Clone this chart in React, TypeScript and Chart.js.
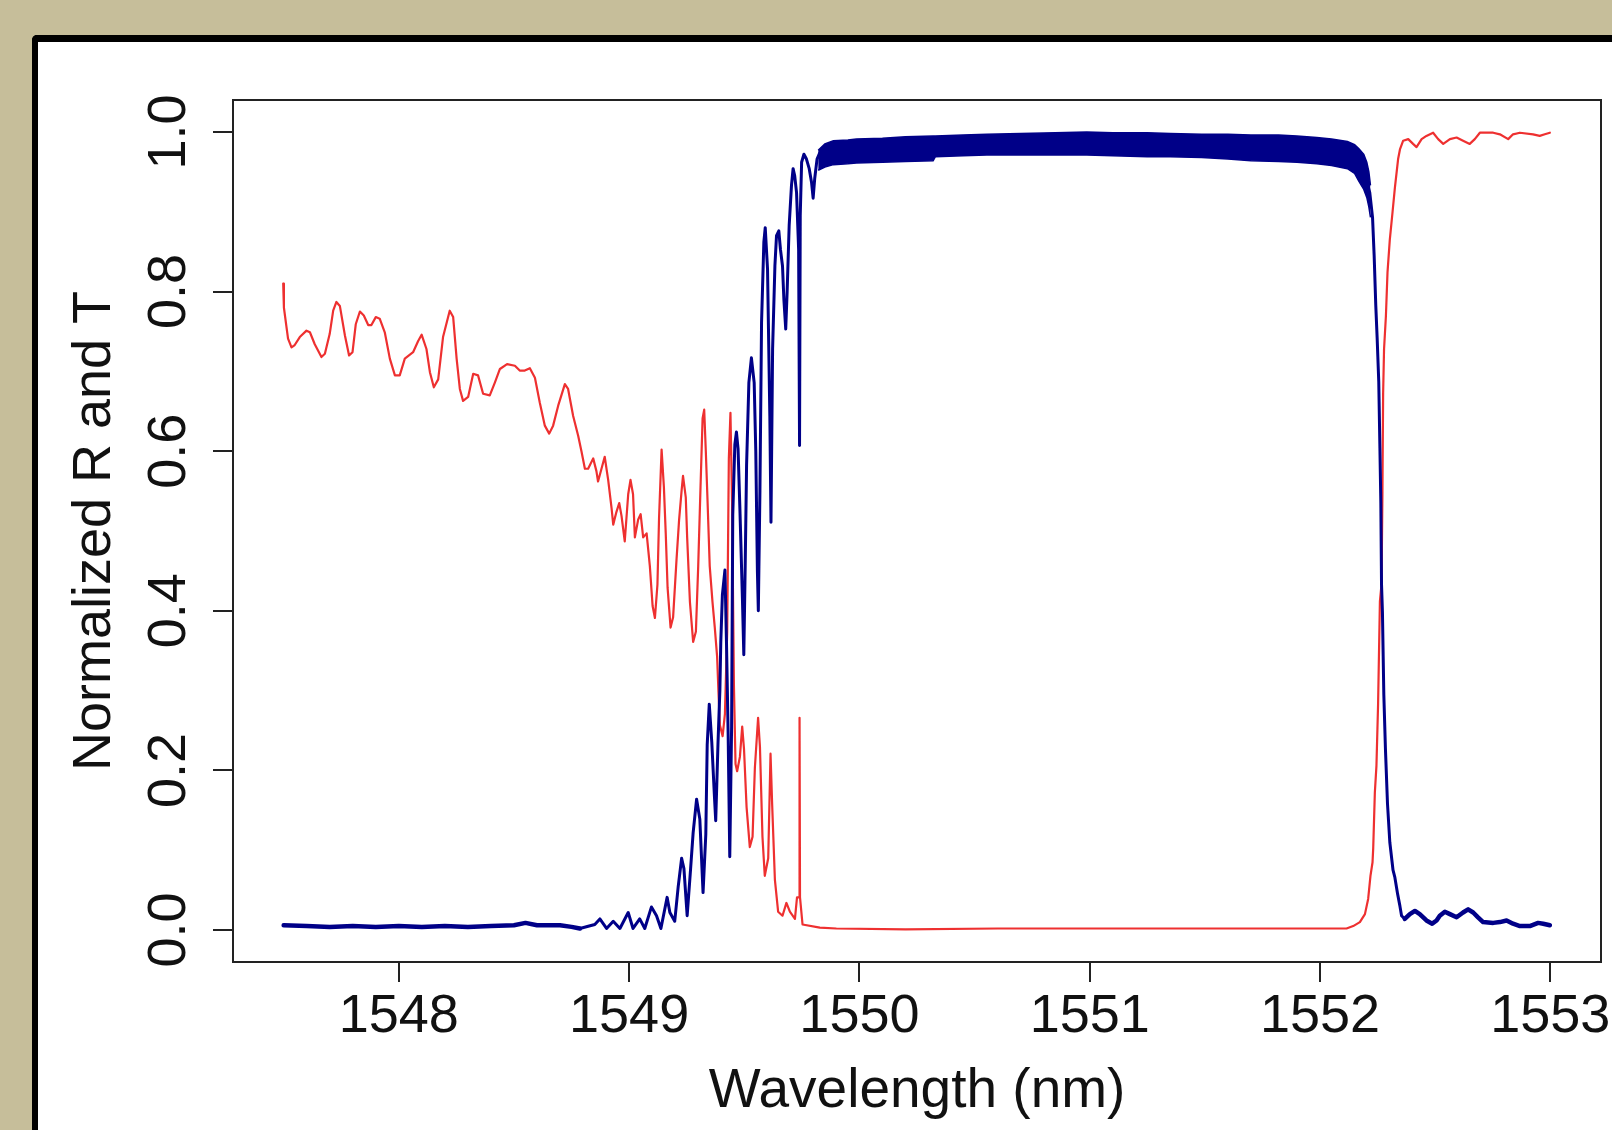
import React, { useEffect, useRef } from "react";
import { Chart, registerables } from "chart.js";

Chart.register(...registerables);

// ---- axis ticks / titles ----
const xTickValues = [1548, 1549, 1550, 1551, 1552, 1553];
const xTickLabels = ["1548", "1549", "1550", "1551", "1552", "1553"];
const yTickValues = [0, 0.2, 0.4, 0.6, 0.8, 1.0];
const yTickLabels = ["0.0", "0.2", "0.4", "0.6", "0.8", "1.0"];
const xTitle = "Wavelength (nm)";
const yTitle = "Normalized R and T";

// ---- R (reflection, red) ----
const rWavelength = [
  1547.498, 1547.501, 1547.512, 1547.519, 1547.534, 1547.548, 1547.570, 1547.599, 1547.614, 1547.635,
  1547.664, 1547.679, 1547.700, 1547.715, 1547.729, 1547.744, 1547.766, 1547.784, 1547.799, 1547.813,
  1547.831, 1547.848, 1547.867, 1547.881, 1547.900, 1547.917, 1547.939, 1547.961, 1547.983, 1548.004,
  1548.026, 1548.062, 1548.084, 1548.099, 1548.120, 1548.135, 1548.152, 1548.171, 1548.192, 1548.221,
  1548.236, 1548.251, 1548.265, 1548.279, 1548.301, 1548.323, 1548.344, 1548.366, 1548.395, 1548.417,
  1548.439, 1548.470, 1548.504, 1548.525, 1548.547, 1548.569, 1548.591, 1548.612, 1548.634, 1548.653,
  1548.670, 1548.692, 1548.721, 1548.735, 1548.757, 1548.779,
  1548.793, 1548.808, 1548.822, 1548.844, 1548.858, 1548.865, 1548.880, 1548.894, 1548.909, 1548.924,
  1548.931, 1548.945, 1548.957, 1548.967, 1548.981, 1548.996, 1549.006, 1549.017, 1549.025, 1549.039,
  1549.050, 1549.061, 1549.076, 1549.090, 1549.102, 1549.112, 1549.123, 1549.130, 1549.141, 1549.151,
  1549.159, 1549.167, 1549.180, 1549.191, 1549.206, 1549.217, 1549.228, 1549.234, 1549.246, 1549.252,
  1549.264, 1549.278, 1549.290, 1549.300, 1549.310, 1549.319, 1549.326, 1549.333, 1549.340, 1549.350,
  1549.362, 1549.372, 1549.382, 1549.388, 1549.394, 1549.406, 1549.416, 1549.426, 1549.433, 1549.440,
  1549.447, 1549.455, 1549.462, 1549.469, 1549.481, 1549.491, 1549.499, 1549.510, 1549.524, 1549.536,
  1549.546, 1549.560, 1549.568, 1549.579, 1549.589, 1549.604, 1549.614, 1549.621, 1549.633, 1549.647,
  1549.666, 1549.683, 1549.698, 1549.720, 1549.729, 1549.738, 1549.740, 1549.742, 1549.753, 1549.828,
  1549.900, 1550.200, 1550.600, 1551.000, 1551.500, 1551.900, 1552.115, 1552.144, 1552.173, 1552.195,
  1552.209, 1552.219, 1552.228, 1552.231, 1552.238, 1552.245, 1552.252, 1552.260, 1552.267, 1552.271,
  1552.274, 1552.278, 1552.286, 1552.293, 1552.303, 1552.315, 1552.325, 1552.339, 1552.347, 1552.361,
  1552.383, 1552.404, 1552.419, 1552.441, 1552.462, 1552.491, 1552.513, 1552.535, 1552.564, 1552.593,
  1552.621, 1552.650, 1552.672, 1552.694, 1552.752, 1552.781, 1552.817, 1552.838, 1552.868, 1552.925,
  1552.954, 1552.976, 1552.998,
];
const rValue = [
  0.810, 0.780, 0.756, 0.741, 0.730, 0.733, 0.743, 0.751, 0.749, 0.734,
  0.718, 0.722, 0.747, 0.776, 0.787, 0.782, 0.745, 0.720, 0.724, 0.759,
  0.775, 0.770, 0.758, 0.758, 0.768, 0.766, 0.749, 0.716, 0.695, 0.695,
  0.716, 0.724, 0.738, 0.746, 0.728, 0.699, 0.680, 0.690, 0.743, 0.776,
  0.768, 0.716, 0.678, 0.663, 0.668, 0.697, 0.695, 0.672, 0.670, 0.686,
  0.703, 0.709, 0.707, 0.701, 0.701, 0.704, 0.692, 0.661, 0.632, 0.622,
  0.632, 0.657, 0.684, 0.678, 0.644, 0.619,
  0.600, 0.578, 0.578, 0.591, 0.575, 0.562, 0.578, 0.593, 0.564, 0.528,
  0.508, 0.524, 0.535, 0.519, 0.487, 0.546, 0.564, 0.546, 0.492, 0.514,
  0.521, 0.492, 0.497, 0.456, 0.406, 0.391, 0.433, 0.517, 0.602, 0.555,
  0.497, 0.429, 0.379, 0.392, 0.465, 0.514, 0.551, 0.569, 0.542, 0.492,
  0.411, 0.361, 0.374, 0.456, 0.555, 0.641, 0.652, 0.600, 0.542, 0.456,
  0.411, 0.379, 0.343, 0.298, 0.257, 0.243, 0.271, 0.375, 0.591, 0.648,
  0.537, 0.307, 0.208, 0.199, 0.217, 0.255, 0.226, 0.154, 0.104, 0.117,
  0.203, 0.266, 0.230, 0.117, 0.068, 0.090, 0.221, 0.158, 0.063, 0.023,
  0.018, 0.034, 0.023, 0.014, 0.041, 0.041, 0.266, 0.041, 0.007, 0.003,
  0.002, 0.001, 0.002, 0.002, 0.002, 0.002, 0.002, 0.005, 0.010, 0.020,
  0.039, 0.068, 0.085, 0.103, 0.172, 0.206, 0.282, 0.412, 0.433, 0.549,
  0.673, 0.728, 0.769, 0.824, 0.865, 0.900, 0.930, 0.966, 0.978, 0.989,
  0.991, 0.985, 0.981, 0.991, 0.995, 0.999, 0.991, 0.985, 0.991, 0.993,
  0.989, 0.985, 0.991, 0.999, 0.999, 0.997, 0.991, 0.997, 0.999, 0.997,
  0.995, 0.997, 0.999,
];

// ---- T (transmission, dark blue) ----
const tWavelength = [
  1547.500, 1547.600, 1547.700, 1547.800, 1547.900, 1548.000, 1548.100, 1548.200, 1548.300, 1548.400,
  1548.500, 1548.550, 1548.600, 1548.700, 1548.750, 1548.786, 1548.851, 1548.873, 1548.902, 1548.931,
  1548.960, 1548.996, 1549.017, 1549.046, 1549.068, 1549.097, 1549.119, 1549.138, 1549.165, 1549.177,
  1549.198, 1549.213, 1549.228, 1549.238, 1549.252, 1549.267, 1549.278, 1549.293, 1549.307, 1549.321,
  1549.333, 1549.339, 1549.348, 1549.359, 1549.370, 1549.376, 1549.386, 1549.394, 1549.398, 1549.405,
  1549.416, 1549.423, 1549.430, 1549.437, 1549.445, 1549.450, 1549.459, 1549.466, 1549.473, 1549.481,
  1549.492, 1549.498, 1549.504, 1549.510, 1549.520, 1549.531, 1549.543, 1549.550, 1549.557, 1549.561,
  1549.568, 1549.575, 1549.585, 1549.591, 1549.601, 1549.611, 1549.616, 1549.623, 1549.633, 1549.640,
  1549.650, 1549.657, 1549.666, 1549.672, 1549.680, 1549.686, 1549.695, 1549.705, 1549.712, 1549.719,
  1549.727, 1549.736, 1549.740, 1549.743, 1549.749, 1549.759, 1549.770, 1549.782, 1549.792, 1549.799,
  1549.806, 1549.816, 1549.828, 1550.000, 1550.500, 1551.000, 1551.500, 1552.000, 1552.120, 1552.170,
  1552.200, 1552.216, 1552.228, 1552.235, 1552.242, 1552.248, 1552.255, 1552.260, 1552.264, 1552.267,
  1552.271, 1552.277, 1552.284, 1552.293, 1552.303, 1552.317, 1552.325, 1552.337, 1552.347, 1552.354,
  1552.368, 1552.390, 1552.412, 1552.433, 1552.462, 1552.487, 1552.506, 1552.520, 1552.542, 1552.564,
  1552.593, 1552.621, 1552.643, 1552.665, 1552.686, 1552.708, 1552.752, 1552.781, 1552.810, 1552.838,
  1552.868, 1552.911, 1552.947, 1552.969, 1552.998,
];
const tValue = [
  0.006, 0.005, 0.004, 0.005, 0.004, 0.005, 0.004, 0.005, 0.004, 0.005,
  0.006, 0.009, 0.006, 0.006, 0.004, 0.002, 0.007, 0.014, 0.002, 0.011,
  0.002, 0.022, 0.002, 0.014, 0.002, 0.029, 0.018, 0.002, 0.041, 0.022,
  0.011, 0.054, 0.090, 0.077, 0.018, 0.077, 0.122, 0.164, 0.139, 0.047,
  0.120, 0.232, 0.283, 0.235, 0.170, 0.137, 0.235, 0.300, 0.361, 0.420,
  0.451, 0.357, 0.245, 0.092, 0.255, 0.520, 0.608, 0.624, 0.603, 0.528,
  0.415, 0.345, 0.456, 0.582, 0.686, 0.717, 0.686, 0.600, 0.450, 0.400,
  0.550, 0.761, 0.862, 0.880, 0.828, 0.644, 0.511, 0.728, 0.832, 0.870,
  0.876, 0.853, 0.832, 0.790, 0.753, 0.799, 0.883, 0.933, 0.954, 0.945,
  0.924, 0.853, 0.607, 0.895, 0.962, 0.972, 0.966, 0.954, 0.937, 0.917,
  0.942, 0.966, 0.974, 0.978, 0.985, 0.988, 0.985, 0.979, 0.973, 0.960,
  0.941, 0.924, 0.893, 0.845, 0.783, 0.742, 0.687, 0.604, 0.535, 0.433,
  0.398, 0.295, 0.227, 0.158, 0.110, 0.075, 0.066, 0.045, 0.030, 0.018,
  0.014, 0.020, 0.024, 0.020, 0.012, 0.008, 0.012, 0.018, 0.023, 0.020,
  0.016, 0.022, 0.026, 0.022, 0.016, 0.010, 0.009, 0.010, 0.012, 0.008,
  0.005, 0.005, 0.009, 0.008, 0.006,
];

// ---- T noise band on the stop-band plateau (upper / lower envelope) ----
const bandWavelength = [
  1549.821, 1549.850, 1549.887, 1549.950, 1549.987, 1550.100, 1550.200, 1550.320, 1550.330, 1550.450,
  1550.553, 1550.700, 1550.850, 1550.987, 1551.100, 1551.250, 1551.350, 1551.486, 1551.600, 1551.700,
  1551.820, 1551.900, 1551.986, 1552.050, 1552.119, 1552.150, 1552.169, 1552.190, 1552.203, 1552.212,
  1552.219,
];
const bandUpper = [
  0.977, 0.985, 0.989, 0.990, 0.991, 0.992, 0.994, 0.995, 0.995, 0.996,
  0.997, 0.998, 0.999, 1.000, 0.999, 0.999, 0.998, 0.997, 0.997, 0.996,
  0.996, 0.995, 0.993, 0.991, 0.988, 0.984, 0.979, 0.972, 0.962, 0.950,
  0.933,
];
const bandLower = [
  0.952, 0.956, 0.959, 0.960, 0.961, 0.962, 0.963, 0.964, 0.969, 0.970,
  0.971, 0.971, 0.971, 0.971, 0.970, 0.969, 0.969, 0.968, 0.966, 0.964,
  0.963, 0.962, 0.960, 0.958, 0.954, 0.948, 0.938, 0.928, 0.918, 0.906,
  0.893,
];

const RED = "#EE3030";
const BLUE = "#000088";
const INK = "#111111";
const FONT = "'Liberation Sans', Arial, Helvetica, sans-serif";

const toPoints = (xs: number[], ys: number[]) => xs.map((x, i) => ({ x, y: ys[i] }));

const decorPlugin = {
  id: "decor",
  afterDraw(chart: any) {
    const { ctx, chartArea: a, scales } = chart;
    ctx.save();
    // full box
    ctx.strokeStyle = "#222";
    ctx.lineWidth = 2;
    ctx.strokeRect(a.left, a.top, a.right - a.left, a.bottom - a.top);
    ctx.fillStyle = INK;
    ctx.textAlign = "center";
    ctx.textBaseline = "alphabetic";
    // x tick labels
    ctx.font = `54px ${FONT}`;
    xTickValues.forEach((v, i) => {
      ctx.fillText(xTickLabels[i], scales.x.getPixelForValue(v), a.bottom + 70);
    });
    // y tick labels (rotated, R style)
    yTickValues.forEach((v, i) => {
      ctx.save();
      ctx.translate(a.left - 48, scales.y.getPixelForValue(v));
      ctx.rotate(-Math.PI / 2);
      ctx.fillText(yTickLabels[i], 0, 0);
      ctx.restore();
    });
    // titles
    ctx.font = `55px ${FONT}`;
    ctx.fillText(xTitle, (a.left + a.right) / 2, a.bottom + 145);
    ctx.font = `54px ${FONT}`;
    ctx.save();
    ctx.translate(a.left - 123, (a.top + a.bottom) / 2);
    ctx.rotate(-Math.PI / 2);
    ctx.fillText(yTitle, 0, 0);
    ctx.restore();
    ctx.restore();
  },
};

export default function App() {
  const canvasRef = useRef<HTMLCanvasElement | null>(null);

  useEffect(() => {
    const canvas = canvasRef.current;
    if (!canvas) return;
    const chart = new Chart(canvas, {
      type: "line",
      data: {
        datasets: [
          {
            label: "T band upper",
            data: toPoints(bandWavelength, bandUpper),
            borderColor: BLUE,
            borderWidth: 1.5,
            pointRadius: 0,
            fill: false,
            tension: 0,
          },
          {
            label: "T band lower",
            data: toPoints(bandWavelength, bandLower),
            borderColor: BLUE,
            backgroundColor: BLUE,
            borderWidth: 1.5,
            pointRadius: 0,
            fill: "-1",
            tension: 0,
          },
          {
            label: "T",
            data: toPoints(tWavelength, tValue),
            borderColor: BLUE,
            borderWidth: 3,
            pointRadius: 0,
            fill: false,
            tension: 0,
            borderJoinStyle: "round",
            borderCapStyle: "round",
            segment: {
              borderWidth: (c: any) =>
                c.p0.parsed.x < 1548.78 || c.p0.parsed.x > 1552.36 ? 4.5 : 3,
            },
          },
          {
            label: "R",
            data: toPoints(rWavelength, rValue),
            borderColor: RED,
            borderWidth: 2.2,
            pointRadius: 0,
            fill: false,
            tension: 0,
            borderJoinStyle: "round",
            borderCapStyle: "round",
          },
        ],
      },
      options: {
        responsive: false,
        animation: false,
        events: [],
        layout: { padding: { left: 0, right: 11, top: 100, bottom: 0 } },
        plugins: {
          legend: { display: false },
          tooltip: { enabled: false },
          title: { display: false },
        },
        scales: {
          x: {
            type: "linear",
            min: 1547.28,
            max: 1553.22,
            afterBuildTicks: (s: any) => {
              s.ticks = xTickValues.map((v) => ({ value: v }));
            },
            afterFit: (s: any) => {
              s.height = 168;
            },
            ticks: { display: false },
            grid: {
              drawOnChartArea: false,
              drawTicks: true,
              tickLength: 20,
              color: "#222",
              lineWidth: 2,
            },
            border: { display: false },
          },
          y: {
            type: "linear",
            min: -0.04,
            max: 1.04,
            afterBuildTicks: (s: any) => {
              s.ticks = yTickValues.map((v) => ({ value: v }));
            },
            afterFit: (s: any) => {
              s.width = 233;
            },
            ticks: { display: false },
            grid: {
              drawOnChartArea: false,
              drawTicks: true,
              tickLength: 20,
              color: "#222",
              lineWidth: 2,
            },
            border: { display: false },
          },
        },
      },
      plugins: [decorPlugin],
    } as any);
    return () => chart.destroy();
  }, []);

  return (
    <div
      style={{
        position: "absolute",
        left: 0,
        top: 0,
        width: 1612,
        height: 1130,
        background: "#C6BE9A",
        overflow: "hidden",
      }}
    >
      <div
        style={{
          position: "absolute",
          left: 32,
          top: 35,
          right: -10,
          bottom: -10,
          background: "#FFFFFF",
          borderLeft: "6px solid #000",
          borderTop: "7px solid #000",
          borderTopLeftRadius: 5,
        }}
      />
      <canvas
        ref={canvasRef}
        width={1612}
        height={1130}
        style={{ position: "absolute", left: 0, top: 0, width: 1612, height: 1130, display: "block" }}
      />
    </div>
  );
}
